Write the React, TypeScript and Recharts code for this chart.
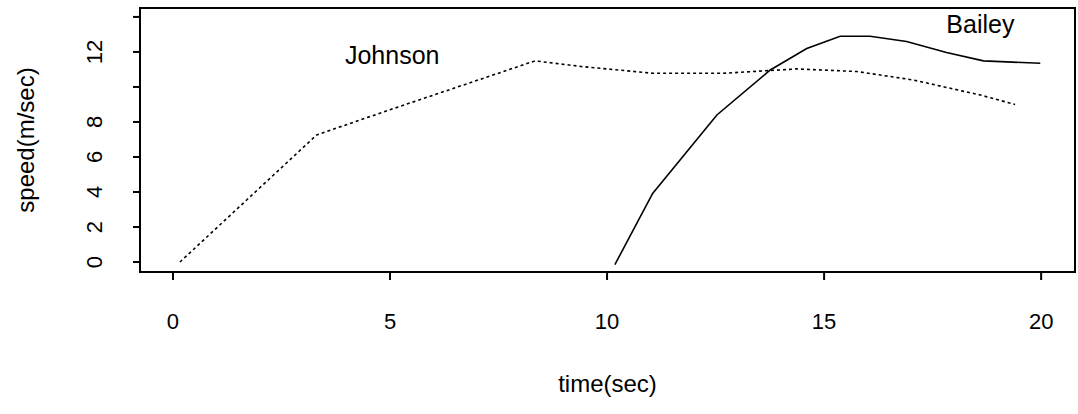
import {
  LineChart,
  Line,
  XAxis,
  YAxis,
  ReferenceArea,
  ReferenceDot,
} from "recharts";

const johnsonTime = [0.16, 3.31, 5.0, 8.34, 9.4, 11.06, 12.67, 14.38, 15.76, 17.05, 18.6, 19.4];
const johnsonSpeed = [0, 7.26, 8.7, 11.49, 11.17, 10.78, 10.78, 11.03, 10.88, 10.4, 9.54, 9.0];

const baileyTime = [10.18, 11.05, 12.53, 13.76, 14.6, 15.37, 16.06, 16.9, 17.82, 18.67, 19.98];
const baileySpeed = [-0.15, 3.92, 8.4, 10.97, 12.2, 12.9, 12.9, 12.6, 11.97, 11.49, 11.35];

const xTicks = [0, 5, 10, 15, 20];
const yTicks = [0, 2, 4, 6, 8, 10, 12, 14];
const yTickLabels = ["0", "2", "4", "6", "8", "", "12", ""];

const xDomain = [-0.76, 20.78];
const yDomain = [-0.57, 14.51];

const FONT = "'Liberation Sans', Arial, sans-serif";

const johnson = johnsonTime.map((t, i) => ({ t, v: johnsonSpeed[i] }));
const bailey = baileyTime.map((t, i) => ({ t, v: baileySpeed[i] }));

const YTick = (props: any) => {
  const { x, y, payload } = props;
  const idx = yTicks.indexOf(payload.value);
  const lbl = idx >= 0 ? yTickLabels[idx] : "";
  const bx = x - 29;
  return (
    <text
      x={bx}
      y={y}
      transform={`rotate(-90, ${bx}, ${y})`}
      textAnchor="middle"
      fontSize={22}
      fontFamily={FONT}
      fill="#000"
    >
      {lbl}
    </text>
  );
};

const YTitle = (props: any) => {
  const vb = props.viewBox;
  const cx = vb.x + 34;
  const cy = vb.y + vb.height / 2;
  return (
    <text
      x={cx}
      y={cy}
      transform={`rotate(-90, ${cx}, ${cy})`}
      textAnchor="middle"
      fontSize={24}
      fontFamily={FONT}
      fill="#000"
    >
      speed(m/sec)
    </text>
  );
};

export default function App() {
  return (
    <div style={{ position: "absolute", left: 0, top: 0, background: "#fff" }}>
      <LineChart
        width={1078}
        height={414}
        margin={{ top: 8, right: 3, left: 0, bottom: 0 }}
      >
        <XAxis
          type="number"
          dataKey="t"
          domain={xDomain}
          ticks={xTicks}
          allowDataOverflow
          height={142}
          tickSize={8}
          tickMargin={33}
          stroke="#000"
          strokeWidth={2}
          tick={{ fontSize: 22, fill: "#000", fontFamily: FONT }}
          label={{
            value: "time(sec)",
            position: "insideBottom",
            offset: 22,
            fontSize: 24,
            fill: "#000",
            fontFamily: FONT,
          }}
        />
        <YAxis
          type="number"
          dataKey="v"
          domain={yDomain}
          ticks={yTicks}
          allowDataOverflow
          width={140}
          tickSize={7}
          stroke="#000"
          strokeWidth={2}
          tick={<YTick />}
          label={<YTitle />}
        />
        <ReferenceArea
          x1={xDomain[0]}
          x2={xDomain[1]}
          y1={yDomain[0]}
          y2={yDomain[1]}
          fill="none"
          stroke="#000"
          strokeWidth={2}
          ifOverflow="visible"
        />
        <Line
          data={johnson}
          dataKey="v"
          type="linear"
          stroke="#000"
          strokeWidth={1.6}
          strokeDasharray="3 3"
          dot={false}
          isAnimationActive={false}
        />
        <Line
          data={bailey}
          dataKey="v"
          type="linear"
          stroke="#000"
          strokeWidth={1.6}
          dot={false}
          isAnimationActive={false}
        />
        <ReferenceDot
          x={5.05}
          y={11.83}
          r={0}
          ifOverflow="visible"
          label={{ value: "Johnson", position: "center", fontSize: 25, fill: "#000", fontFamily: FONT }}
        />
        <ReferenceDot
          x={18.6}
          y={13.6}
          r={0}
          ifOverflow="visible"
          label={{ value: "Bailey", position: "center", fontSize: 25, fill: "#000", fontFamily: FONT }}
        />
      </LineChart>
    </div>
  );
}
